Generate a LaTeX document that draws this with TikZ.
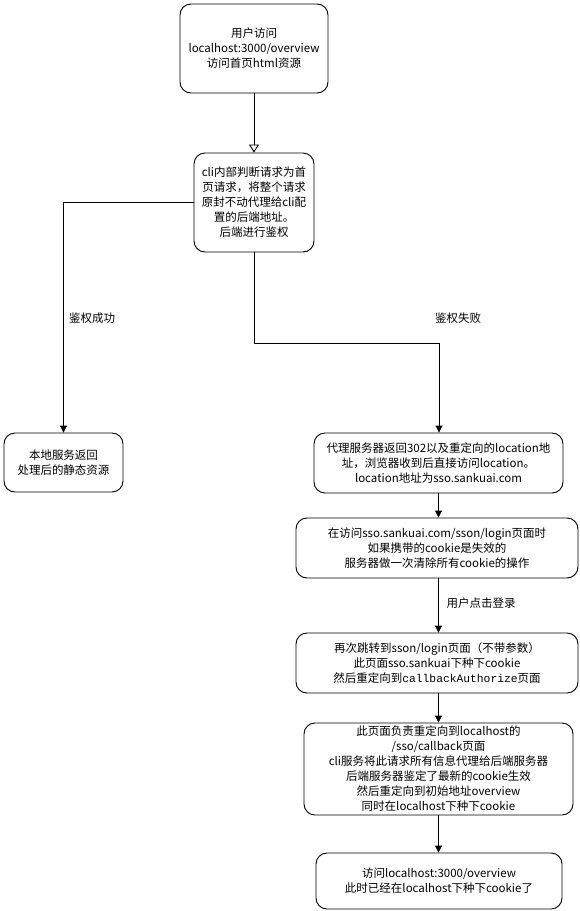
\documentclass[tikz,border=0pt]{standalone}
\usepackage{fontspec}
\setmainfont{Noto Sans CJK SC}
\setmonofont{Liberation Mono}
\usetikzlibrary{arrows.meta}
\begin{document}
\begin{tikzpicture}[x=1pt, y=-1pt, line width=0.9pt,
	box/.style={draw, fill=white, rounded corners=11pt, align=center, inner sep=0pt, font=\fontsize{11.5}{15}\selectfont},
	flow/.style={-{Triangle[length=7pt, width=7pt]}},
	lbl/.style={font=\fontsize{11.5}{15}\selectfont}]
	\useasboundingbox (0,0) rectangle (579,911);
	\node[box, minimum width=148pt, minimum height=89pt] (visit) at (254,48.5) {用户访问\\localhost:3000/overview\\访问首页html资源};
	\node[box, minimum width=120pt, minimum height=99pt] (judge) at (254,202.5) {cli内部判断请求为首\\页请求，将整个请求\\原封不动代理给cli配\\置的后端地址。\\后端进行鉴权};
	\node[box, minimum width=119pt, minimum height=59pt] (local) at (63.5,462.5) {本地服务返回\\处理后的静态资源};
	\node[box, minimum width=249pt, minimum height=60pt] (proxy) at (438.5,463) {代理服务器返回302以及重定向的location地\\址，浏览器收到后直接访问location。\\location地址为sso.sankuai.com};
	\node[box, minimum width=282pt, minimum height=60pt] (clear) at (437,548) {在访问sso.sankuai.com/sson/login页面时\\如果携带的cookie是失效的\\服务器做一次清除所有cookie的操作};
	\node[box, minimum width=282pt, minimum height=60pt] (relogin) at (437,663) {再次跳转到sson/login页面（不带参数）\\此页面sso.sankuai下种下cookie\\然后重定向到{\ttfamily\fontsize{11.3}{15}\selectfont callbackAuthorize}页面};
	\node[box, minimum width=269pt, minimum height=92pt] (callback) at (438.5,769) {此页面负责重定向到localhost的\\/sso/callback页面\\cli服务将此请求所有信息代理给后端服务器\\后端服务器鉴定了最新的cookie生效\\然后重定向到初始地址overview\\同时在localhost下种下cookie};
	\node[box, minimum width=246pt, minimum height=56pt] (done) at (439,881) {访问localhost:3000/overview\\此时已经在localhost下种下cookie了};
	\node[lbl] (okay) at (92,318) {鉴权成功};
	\node[lbl] (fail) at (458,318) {鉴权失败};
	\node[lbl] (click) at (481,603) {用户点击登录};
	\coordinate (bend) at (254,343);
	\draw[-{Triangle[open, length=8pt, width=10pt]}] (visit) -- (judge);
	\draw[flow] (judge.west) -| (local.north);
	\draw[flow] (judge.south) -- (bend) -| (439,0 |- proxy.north);
	\draw[flow] (proxy.south) -- (proxy.south |- clear.north);
	\draw[flow] (proxy.south |- clear.south) -- (proxy.south |- relogin.north);
	\draw[flow] (proxy.south |- relogin.south) -- (proxy.south |- callback.north);
	\draw[flow] (proxy.south |- callback.south) -- (proxy.south |- done.north);
\end{tikzpicture}
\end{document}
